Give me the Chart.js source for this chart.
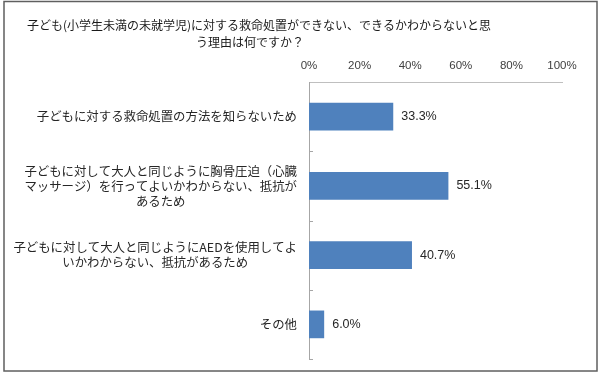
<!DOCTYPE html>
<html>
<head>
<meta charset="utf-8">
<script src="https://cdn.jsdelivr.net/npm/chart.js@4"></script>
<style>
  html, body { margin: 0; padding: 0; background: #ffffff; }
  #wrap { width: 602px; height: 375px; position: relative; }
</style>
</head>
<body>
<div id="wrap"><canvas id="c" width="602" height="375"></canvas></div>
<script>
// ---- data ----
const titleLines = [
  '子ども(小学生未満の未就学児)に対する救命処置ができない、できるかわからないと思',
  'う理由は何ですか？'
];
const categories = [
  ['子どもに対する救命処置の方法を知らないため'],
  ['子どもに対して大人と同じように胸骨圧迫（心臓', 'マッサージ）を行ってよいかわからない、抵抗が', 'あるため'],
  ['子どもに対して大人と同じようにAEDを使用してよ', 'いかわからない、抵抗があるため'],
  ['その他']
];
const values = [33.3, 55.1, 40.7, 6.0];
const tickLabels = ['0%', '20%', '40%', '60%', '80%', '100%'];

const JP = '"Noto Sans CJK JP", "Noto Sans", sans-serif';
const NUM = '"Liberation Sans", Arial, sans-serif';

const customPlugin = {
  id: 'custom',
  beforeDraw(chart) {
    const ctx = chart.ctx;
    ctx.save();
    ctx.fillStyle = '#ffffff';
    ctx.fillRect(0, 0, chart.width, chart.height);
    ctx.strokeStyle = '#5f5f5f';
    ctx.lineWidth = 1.5;
    ctx.strokeRect(4, 1.5, 593, 369.5);
    ctx.restore();
  },
  afterDraw(chart) {
    const ctx = chart.ctx;
    const y = chart.scales.y;
    const x = chart.scales.x;
    ctx.save();
    // title
    ctx.fillStyle = '#1a1a1a';
    ctx.font = '12px ' + JP;
    ctx.textBaseline = 'middle';
    ctx.textAlign = 'left';
    ctx.fillText(titleLines[0], 27, 25);
    ctx.fillText(titleLines[1], 196, 42);
    // category labels: block right-aligned, lines centered in block
    ctx.font = '12.4px ' + JP;
    ctx.fillStyle = '#262626';
    ctx.textAlign = 'center';
    const rightEdge = x.left - 12;
    const lh = 15;
    categories.forEach((lines, i) => {
      const cy = y.getPixelForValue(i);
      const w = Math.max(...lines.map(l => ctx.measureText(l).width));
      const cx = rightEdge - w / 2;
      const startY = cy - (lines.length - 1) * lh / 2;
      lines.forEach((l, j) => ctx.fillText(l, cx, startY + j * lh));
    });
    // inner tick marks on category axis
    ctx.strokeStyle = '#a6a6a6';
    ctx.lineWidth = 1;
    for (let i = 0; i < categories.length; i++) {
      const b = i < categories.length - 1
        ? (y.getPixelForValue(i) + y.getPixelForValue(i + 1)) / 2
        : y.bottom;
      ctx.beginPath();
      ctx.moveTo(x.left, Math.round(b) + 0.5);
      ctx.lineTo(x.left + 4, Math.round(b) + 0.5);
      ctx.stroke();
    }
    // data labels
    ctx.font = '12.5px ' + NUM;
    ctx.fillStyle = '#262626';
    ctx.textAlign = 'left';
    chart.getDatasetMeta(0).data.forEach((el, i) => {
      ctx.fillText(values[i].toFixed(1) + '%', el.x + 8, el.y);
    });
    ctx.restore();
  }
};

new Chart(document.getElementById('c'), {
  type: 'bar',
  data: {
    labels: categories.map(c => c.join('')),
    datasets: [{
      data: values,
      backgroundColor: '#4f81bd',
      borderColor: '#5a8cc8',
      borderWidth: 0,
      barPercentage: 0.4,
      categoryPercentage: 1.0
    }]
  },
  options: {
    indexAxis: 'y',
    responsive: false,
    animation: false,
    devicePixelRatio: 1,
    layout: { padding: { left: 0, right: 40, top: 50, bottom: 16 } },
    plugins: {
      legend: { display: false },
      title: { display: false },
      tooltip: { enabled: false }
    },
    scales: {
      x: {
        position: 'top',
        min: 0,
        max: 100,
        ticks: {
          stepSize: 20,
          padding: 9,
          color: '#404040',
          font: { family: NUM, size: 11.5 },
          callback: (v, i) => tickLabels[i]
        },
        grid: { display: false, drawTicks: false },
        border: { display: true, color: '#bfbfbf', width: 1 },
        afterFit: (s) => { s.height = 32; }
      },
      y: {
        ticks: { display: false },
        grid: { display: false, drawTicks: false },
        border: { display: true, color: '#a6a6a6', width: 1 },
        afterFit: (s) => { s.width = 309; }
      }
    }
  },
  plugins: [customPlugin]
});
</script>
</body>
</html>
